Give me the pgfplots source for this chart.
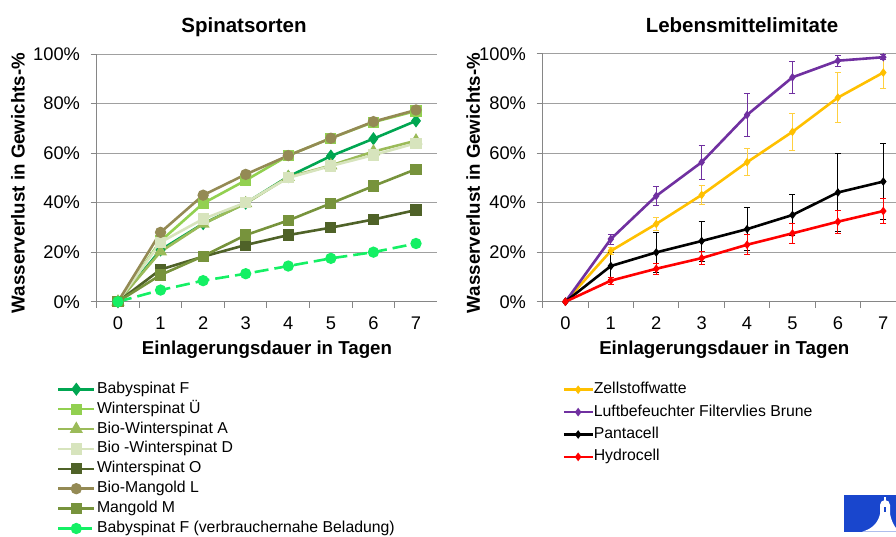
\documentclass[border=0pt]{standalone}
\usepackage{pgfplots}
\pgfplotsset{compat=1.18}
\usepackage{fontspec}
\setmainfont{Liberation Sans}

\definecolor{axgray}{RGB}{134,134,134}
\definecolor{gridgray}{RGB}{160,160,160}
\definecolor{cBabyF}{RGB}{0,166,81}
\definecolor{cWintU}{RGB}{146,208,80}
\definecolor{cBioA}{RGB}{155,187,89}
\definecolor{cBioD}{RGB}{215,228,189}
\definecolor{cWintO}{RGB}{79,98,40}
\definecolor{cMangL}{RGB}{148,138,84}
\definecolor{cMangM}{RGB}{119,147,60}
\definecolor{cBabyV}{RGB}{20,240,100}
\definecolor{cZell}{RGB}{255,192,0}
\definecolor{cLuft}{RGB}{112,48,160}
\definecolor{cHydro}{RGB}{255,0,0}
\definecolor{logoblue}{RGB}{25,70,205}

\newcommand{\fTick}{\fontsize{18.3}{20}\selectfont}
\newcommand{\fLab}{\fontsize{18.7}{22}\selectfont\bfseries}
\newcommand{\fTitle}{\fontsize{20.5}{24}\selectfont\bfseries}
\newcommand{\fLeg}{\fontsize{15.8}{18}\selectfont}

\pgfplotsset{
  base/.style={
    scale only axis, anchor=south west, clip=false,
    xmin=-0.5, ymin=0, ymax=100,
    axis x line*=bottom, axis y line*=left,
    axis line style={axgray, line width=1pt},
    ymajorgrids, major grid style={gridgray, line width=1pt},
    ytick={0,20,...,100},
    yticklabel={\pgfmathprintnumber{\tick}\%},
    /pgf/number format/assume math mode=true,
    xtick={-0.5,0.5,...,6.5}, xticklabels={},
    extra x ticks={0,1,...,7},
    extra x tick labels={0,1,2,3,4,5,6,7},
    extra x tick style={tick style={draw=none}},
    tick align=outside, major tick length=6pt,
    tick style={axgray, line width=1pt},
    ticklabel style={font=\fTick},
    xticklabel style={anchor=north, inner sep=0pt, yshift=-9pt},
    yticklabel style={anchor=east, inner sep=0pt, xshift=-10.5pt},
    xlabel={Einlagerungsdauer in Tagen},
    ylabel={Wasserverlust in Gewichts-\%},
    label style={font=\fLab},
    legend cell align=left,
    legend style={draw=none, fill=none, inner sep=0pt, outer sep=0pt,
      font=\fLeg, anchor=north west,
      nodes={inner sep=0pt, text height=11.5pt, text depth=3.5pt}},
  },
}

\begin{document}
\begin{tikzpicture}
\path[use as bounding box] (0pt,0pt) rectangle (896pt,536pt);

\node[font=\fTitle, anchor=base] at (244pt,503pt) {Spinatsorten};
\node[font=\fTitle, anchor=base] at (742pt,503pt) {Lebensmittelimitate};

% ---------- left: Spinatsorten ----------
\begin{axis}[base,
  at={(96.7pt,234.3pt)}, width=340.6pt, height=247.7pt, xmax=7.5,
  xlabel style={at={(axis description cs:0.5,0)}, anchor=center, yshift=-48.5pt},
  ylabel style={at={(axis description cs:-0.231,0.479)}, anchor=center},
  legend style={at={(rel axis cs:0,0)}, xshift=-39.7pt, yshift=-80pt,
    row sep=4.9pt, column sep=1.4pt},
  legend image code/.code={\draw[mark repeat=2,mark phase=2,#1]
     plot coordinates {(0pt,0pt) (18pt,0pt) (36pt,0pt)};},
  every axis plot/.append style={line width=2.6pt, mark options={solid}},
]
\addplot[color=cBabyF, mark=diamond*, mark size=4.5pt] coordinates
  {(0,0) (1,20.9) (2,31.5) (3,39.8) (4,50.5) (5,58.8) (6,65.8) (7,73.0)};
\addlegendentry{Babyspinat F}
\addplot[color=cWintU, mark=square*, mark size=4.3pt] coordinates
  {(0,0) (1,24.5) (2,39.7) (3,49.0) (4,59.0) (5,66.0) (6,72.5) (7,77.0)};
\addlegendentry{Winterspinat Ü}
\addplot[color=cBioA, mark=triangle*, mark size=5pt] coordinates
  {(0,0) (1,20.2) (2,31.4) (3,39.7) (4,50.3) (5,55.0) (6,60.6) (7,65.0)};
\addlegendentry{Bio-Winterspinat A}
\addplot[color=cBioD, mark=square*, mark size=4.3pt] coordinates
  {(0,0) (1,24.0) (2,33.4) (3,40.0) (4,50.0) (5,54.8) (6,59.2) (7,64.0)};
\addlegendentry{Bio -Winterspinat D}
\addplot[color=cWintO, mark=square*, mark size=4.3pt] coordinates
  {(0,0) (1,13.0) (2,18.2) (3,22.9) (4,26.9) (5,29.9) (6,33.2) (7,37.0)};
\addlegendentry{Winterspinat O}
\addplot[color=cMangL, mark=*, mark size=4.3pt] coordinates
  {(0,0) (1,28.0) (2,43.0) (3,51.4) (4,59.0) (5,66.0) (6,72.7) (7,77.4)};
\addlegendentry{Bio-Mangold L}
\addplot[color=cMangM, mark=square*, mark size=4.3pt] coordinates
  {(0,0) (1,10.8) (2,18.4) (3,26.9) (4,32.8) (5,39.7) (6,46.7) (7,53.5)};
\addlegendentry{Mangold M}
\addplot[color=cBabyV, mark=*, mark size=4.3pt, dash pattern=on 14pt off 6pt] coordinates
  {(0,0) (1,4.7) (2,8.5) (3,11.3) (4,14.4) (5,17.5) (6,20.0) (7,23.5)};
\addlegendentry{Babyspinat F (verbrauchernahe Beladung)}
\end{axis}

% ---------- right: Lebensmittelimitate ----------
\begin{axis}[base,
  at={(542.7pt,234.3pt)}, width=353.3pt, height=247.7pt, xmax=7.28,
  xlabel style={at={(axis description cs:0.514,0)}, anchor=center, yshift=-48.5pt},
  ylabel style={at={(axis description cs:-0.197,0.479)}, anchor=center},
  legend style={at={(rel axis cs:0,0)}, xshift=19.8pt, yshift=-80.5pt,
    row sep=7.4pt, column sep=0pt},
  legend image code/.code={\draw[mark repeat=2,mark phase=2,#1]
     plot coordinates {(0pt,0pt) (14.35pt,0pt) (28.7pt,0pt)};},
  every axis plot/.append style={line width=2.6pt, mark=diamond*, mark size=2.2pt},
  error bars/y dir=both, error bars/y explicit,
  error bars/error mark options={rotate=90, mark size=3pt, line width=0.8pt},
]
\addplot[color=cZell, error bars/y dir=both, error bars/y explicit,
  error bars/error bar style={color=cZell!75, line width=0.8pt}]
  table[x=x, y=y, y error=e] {
x y e
0 0 0
1 20.5 1.5
2 31.4 2.7
3 43.1 4.0
4 56.3 5.5
5 68.6 7.5
6 82.4 10.0
7 92.5 6.5
};
\addlegendentry{Zellstoffwatte}
\addplot[color=cLuft, error bars/y dir=both, error bars/y explicit,
  error bars/error bar style={line width=0.8pt}]
  table[x=x, y=y, y error=e] {
x y e
0 0 0
1 25.3 2.0
2 42.7 4.0
3 56.3 7.0
4 75.4 8.7
5 90.6 6.5
6 97.3 2.3
7 98.7 1.0
};
\addlegendentry{Luftbefeuchter Filtervlies Brune}
\addplot[color=black, error bars/y dir=both, error bars/y explicit,
  error bars/error bar style={line width=0.8pt}]
  table[x=x, y=y, y error=e] {
x y e
0 0 0
1 14.4 5.5
2 19.9 8.0
3 24.5 8.1
4 29.3 8.7
5 35.0 8.3
6 44.1 15.8
7 48.5 15.4
};
\addlegendentry{Pantacell}
\addplot[color=cHydro, error bars/y dir=both, error bars/y explicit,
  error bars/error bar style={line width=0.8pt}]
  table[x=x, y=y, y error=e] {
x y e
0 0 0
1 8.5 1.5
2 13.3 2.2
3 17.6 2.6
4 23.0 4.0
5 27.6 4.2
6 32.3 4.7
7 36.6 5.0
};
\addlegendentry{Hydrocell}
\end{axis}

% logo
\fill[logoblue] (844pt,4.3pt) rectangle (896pt,41pt);
\fill[white] (862pt,4.3pt) .. controls (872pt,7pt) and (878pt,13pt) .. (880pt,22pt) -- (880pt,31pt)
  -- (890pt,31pt) -- (890pt,22pt) .. controls (892pt,13pt) and (895pt,9pt) .. (896pt,8pt) -- (896pt,4.3pt) -- cycle;
\fill[white] (885pt,31pt) circle (5pt);
\fill[white] (884.3pt,35pt) rectangle (885.7pt,39pt);
\fill[logoblue] (884.3pt,24pt) rectangle (885.7pt,29pt);
\end{tikzpicture}
\end{document}
